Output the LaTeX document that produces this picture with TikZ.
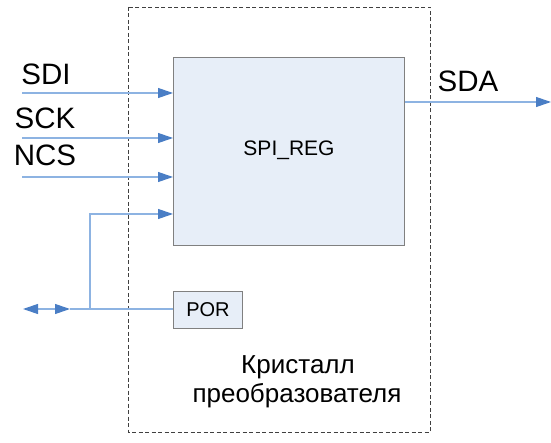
\documentclass[tikz,border=0pt]{standalone}
\usepackage{fontspec}
\setmainfont{Liberation Sans}
\usetikzlibrary{arrows.meta}
\definecolor{wire}{HTML}{8DB3E2}
\definecolor{tip}{HTML}{4A7EC5}
\definecolor{boxfill}{HTML}{E7EEF8}
\definecolor{boxline}{HTML}{808080}
\tikzset{
  sig/.style={draw=wire, line width=1.1pt, -{Triangle[length=15pt,width=10pt,color=tip]}},
  plain/.style={draw=wire, line width=1.1pt},
  blockbox/.style={draw=boxline, fill=boxfill, line width=1.1pt, inner sep=0pt},
  big/.style={font=\fontsize{29.5}{34}\selectfont, inner sep=0pt},
  cyr/.style={font=\fontsize{26}{30}\selectfont, inner sep=0pt},
  mid/.style={font=\fontsize{21}{24}\selectfont, inner sep=0pt},
  small/.style={font=\fontsize{20}{24}\selectfont, inner sep=0pt},
}
\begin{document}
\begin{tikzpicture}[x=1pt,y=-1pt]
\useasboundingbox (0,0) rectangle (551,443);
% crystal outline
\draw[draw=black!75, line width=0.8pt, dash pattern=on 4pt off 2.5pt] (128,7) rectangle (430,432);
% SPI_REG
\node[blockbox, minimum width=231pt, minimum height=188pt, anchor=north west] (spi) at (173,57) {};
\node[mid] (spilbl) at (289,150) {SPI\_REG};
% POR
\node[blockbox, minimum width=69pt, minimum height=37pt, anchor=north west] (por) at (173,291) {};
\node[small] (porlbl) at (208,310) {POR};
% connector coordinates
\coordinate (sdi0) at (22,93);
\coordinate (sck0) at (22,138);
\coordinate (ncs0) at (22,177);
\coordinate (sdi1) at (spi.west |- sdi0);
\coordinate (sck1) at (spi.west |- sck0);
\coordinate (ncs1) at (spi.west |- ncs0);
\coordinate (in41) at (173,214);
\coordinate (bend) at (90,214);
\coordinate (tee) at (90,309);
\coordinate (bia) at (70,309);
\coordinate (bib) at (23,309);
\coordinate (porw) at (por.west |- tee);
\coordinate (sdaend) at (551,102);
\coordinate (sdastart) at (spi.east |- sdaend);
\draw[sig] (sdi0) -- (sdi1);
\draw[sig] (sck0) -- (sck1);
\draw[sig] (ncs0) -- (ncs1);
\draw[sig] (tee) -- (bend) -- (in41);
\draw[plain] (porw) -- (bia);
\draw[draw=wire, line width=1.1pt, {Triangle[length=15pt,width=10pt,color=tip]}-{Triangle[length=15pt,width=10pt,color=tip]}] (bib) -- (bia);
\draw[sig] (sdastart) -- (sdaend);
% labels
\node[big] (sdi) at (46,74) {SDI};
\node[big] (sck) at (45,118) {SCK};
\node[big] (ncs) at (45,155) {NCS};
\node[big] (sda) at (468,81) {SDA};
\node[cyr, anchor=base] (kr) at (298,373) {Кристалл};
\node[cyr, anchor=base] (pr) at (297,402) {преобразователя};
\end{tikzpicture}
\end{document}
